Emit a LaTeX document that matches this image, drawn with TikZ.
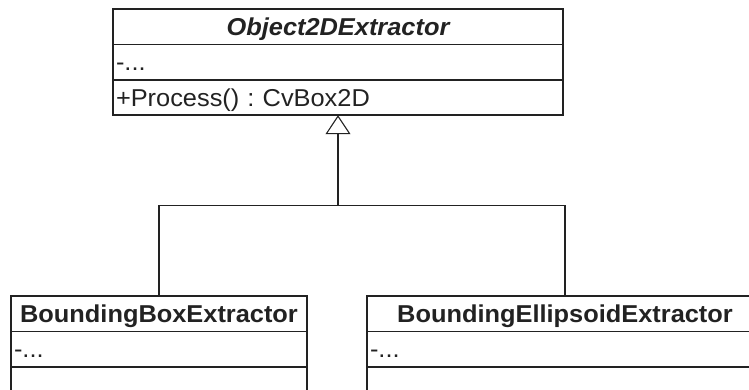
\documentclass[tikz,border=0pt]{standalone}
\usepackage{fontspec}
\setmainfont{Liberation Sans}[FakeStretch=1.04]
\usetikzlibrary{arrows.meta}
\definecolor{ink}{RGB}{34,34,34}
\frenchspacing
\begin{document}
\begin{tikzpicture}[x=1pt,y=-1pt,
  box/.style={draw=ink, line width=1.5pt, inner xsep=3pt, inner ysep=0pt,
    outer sep=0pt, minimum height=35.4pt, text height=17.4pt, text depth=0pt,
    text=ink, anchor=north west, font=\fontsize{24.4}{28}\selectfont},
  classname/.style={box, align=center, font=\fontsize{24.4}{28}\selectfont\bfseries},
  member/.style={box, align=left},
  link/.style={draw=ink, line width=1.1pt}]
\useasboundingbox (0,0) rectangle (749,389);
\clip (0,0) rectangle (749,389);

% abstract base class
\node[classname, text width=444pt, font=\fontsize{24.4}{28}\selectfont\bfseries\itshape]
  (objT) at (113,9) {Object2DExtractor};
\node[member, text width=444pt] (objA) at (objT.south west) {-...};
\node[member, text width=444pt] (objO) at (objA.south west) {+Process() : CvBox2D};

% derived classes
\node[classname, text width=290pt] (bbT) at (11,296) {BoundingBoxExtractor};
\node[member, text width=290pt] (bbA) at (bbT.south west) {-...};
\node[member, text width=290pt] (bbO) at (bbA.south west) {};

\node[classname, text width=390pt] (beT) at (367,296) {BoundingEllipsoidExtractor};
\node[member, text width=390pt] (beA) at (beT.south west) {-...};
\node[member, text width=390pt] (beO) at (beA.south west) {};

% generalization
\coordinate (fork) at ([yshift=-90pt]objO.south);
\draw[link] (bbT.north) |- (fork) -| (beT.north);
\draw[link, -{Triangle[open, length=19pt, width=25pt]}] (fork) -- (objO.south);
\end{tikzpicture}
\end{document}
